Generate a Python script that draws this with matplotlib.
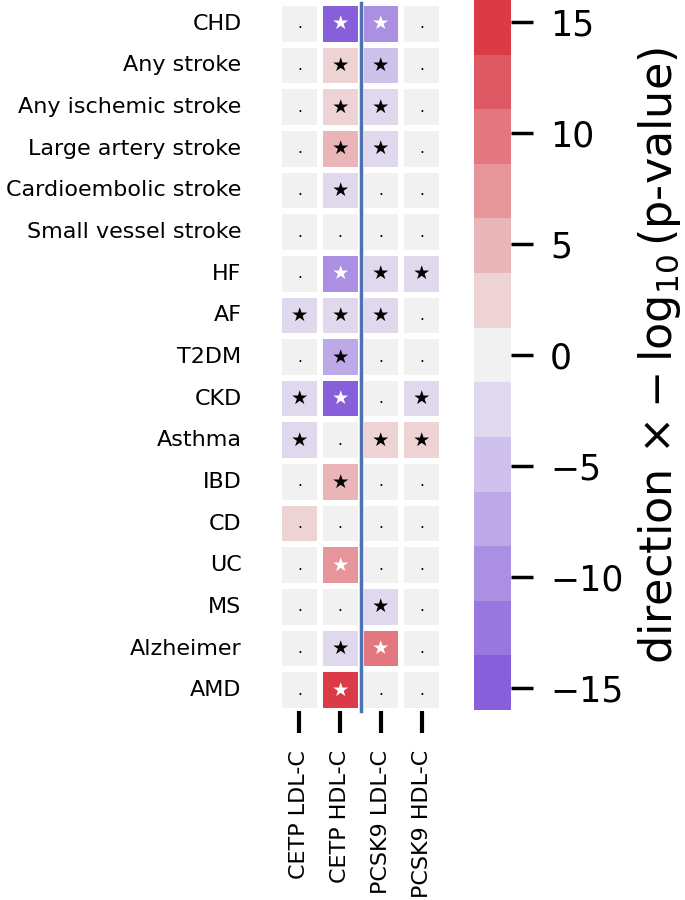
import numpy as np
import matplotlib
matplotlib.use("Agg")
import matplotlib.pyplot as plt
import seaborn as sns

# outcomes (rows) and exposures (columns)
outcomes = ["CHD", "Any stroke", "Any ischemic stroke", "Large artery stroke",
            "Cardioembolic stroke", "Small vessel stroke", "HF", "AF", "T2DM",
            "CKD", "Asthma", "IBD", "CD", "UC", "MS", "Alzheimer", "AMD"]
exposures = ["CETP LDL-C", "CETP HDL-C", "PCSK9 LDL-C", "PCSK9 HDL-C"]

# direction x -log10(p)
scores = [
    [0.3, -15.2, -9.8, 0.4],
    [0.5, 2.6, -4.9, 0.2],
    [0.4, 2.4, -2.8, 0.3],
    [0.6, 4.8, -2.5, 0.2],
    [0.3, -2.7, 0.5, 0.4],
    [0.2, 0.6, 0.4, 0.3],
    [0.5, -10.1, -2.6, -2.9],
    [-2.6, -2.8, -2.5, 0.7],
    [0.4, -7.6, 0.6, 0.5],
    [-2.9, -15.4, 0.4, -2.7],
    [-2.8, 0.5, 2.7, 2.6],
    [0.4, 4.9, 0.3, 0.2],
    [1.8, 0.5, 0.3, 0.4],
    [0.5, 7.5, 0.6, 0.3],
    [0.3, 0.4, -2.6, 0.2],
    [0.4, -2.7, 10.2, 0.3],
    [0.5, 15.3, 0.4, 0.5],
]

# 0 = not significant, 1 = significant, 2 = significant (white star)
signif = [
    [0, 2, 2, 0],
    [0, 1, 1, 0],
    [0, 1, 1, 0],
    [0, 1, 1, 0],
    [0, 1, 0, 0],
    [0, 0, 0, 0],
    [0, 2, 1, 1],
    [1, 1, 1, 0],
    [0, 1, 0, 0],
    [1, 2, 0, 1],
    [1, 0, 1, 1],
    [0, 1, 0, 0],
    [0, 0, 0, 0],
    [0, 2, 0, 0],
    [0, 0, 1, 0],
    [0, 1, 2, 0],
    [0, 2, 0, 0],
]

data = np.array(scores)
cmap = sns.diverging_palette(275, 10, s=75, l=50, n=13, center="light")

fig = plt.figure(figsize=(6.85, 9), dpi=100)
ax = fig.add_axes([279 / 685, 1 - 711 / 900, 163 / 685, 708 / 900])
cax = fig.add_axes([474 / 685, 1 - 710 / 900, 37 / 685, 710 / 900])

sns.heatmap(data, ax=ax, cbar_ax=cax, cmap=cmap, vmin=-16, vmax=16,
            linewidths=3, linecolor="white",
            xticklabels=exposures, yticklabels=outcomes)

for i in range(len(outcomes)):
    for j in range(len(exposures)):
        s = signif[i][j]
        if s == 0:
            ax.text(j + 0.5, i + 0.5, ".", ha="center", va="center",
                    fontsize=11, color="black")
        else:
            ax.text(j + 0.5, i + 0.5, "\u2605", ha="center", va="center",
                    fontsize=14, color="white" if s == 2 else "black")

ax.axvline(2, color="#4c72b0", lw=2.5, clip_on=False)

ax.tick_params(axis="y", length=0, pad=27, labelsize=16)
ax.tick_params(axis="x", length=16, width=3, pad=12, labelsize=16)
ax.set_yticklabels(outcomes, rotation=0)
ax.set_xticklabels(exposures, rotation=90)

cax.set_yticks([-15, -10, -5, 0, 5, 10, 15])
cax.tick_params(length=16, width=2.5, pad=12, labelsize=25)
cax.set_ylabel(r"direction $\times -\log_{10}$(p-value)", fontsize=32, labelpad=9)

fig.savefig("out.png", dpi=100)
